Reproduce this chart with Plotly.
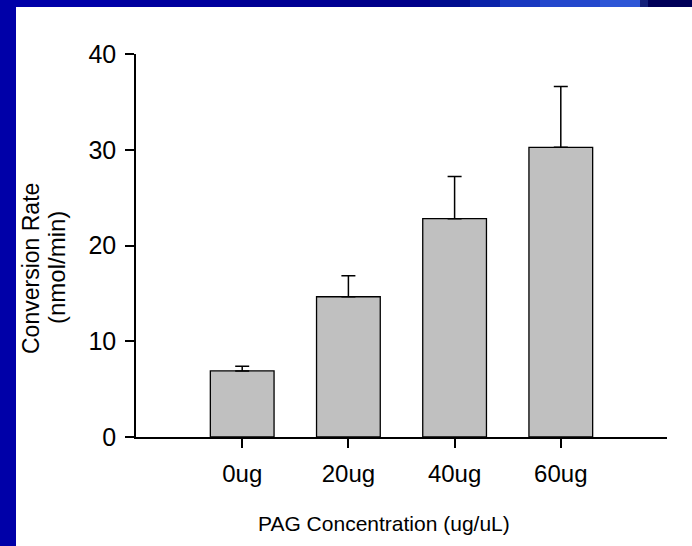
import plotly.graph_objects as go

categories = ["0ug", "20ug", "40ug", "60ug"]
rates = [6.9, 14.65, 22.8, 30.25]
errors = [0.5, 2.2, 4.4, 6.35]
y_ticks = [0, 10, 20, 30, 40]

W, H = 692, 546
L, R, T, B = 136, 25, 54, 109
pw, ph = W - L - R, H - T - B

def px(x):
    return (x - L) / pw

def py(y):
    return (H - B - y) / ph

FONT = "Liberation Sans, Arial, sans-serif"

fig = go.Figure()
fig.add_trace(go.Bar(
    x=categories, y=rates, width=0.6,
    marker=dict(color="#C0C0C0", line=dict(color="black", width=1.3)),
    error_y=dict(type="data", symmetric=False, array=errors,
                 arrayminus=[0] * len(errors), color="black",
                 thickness=1.5, width=7),
))

shapes = []
# left blue border
shapes.append(dict(type="rect", xref="paper", yref="paper",
                   x0=px(0), x1=px(16), y0=py(H), y1=py(0),
                   fillcolor="#0000A8", line=dict(width=0), layer="above"))
# top band segments (gradient approximation)
band = [(0, 120, "#0000A8"), (120, 240, "#00009E"), (240, 340, "#000094"),
        (340, 430, "#00008A"), (430, 470, "#000C8E"), (470, 500, "#0A22A8"),
        (500, 540, "#1838C0"), (540, 600, "#2448CC"), (600, 640, "#2E56D6"),
        (640, 648, "#14207A"), (648, 692, "#000058")]
for a, b, c in band:
    shapes.append(dict(type="rect", xref="paper", yref="paper",
                       x0=px(a), x1=px(b), y0=py(7), y1=py(0),
                       fillcolor=c, line=dict(width=0), layer="above"))

annotations = [
    dict(text="Conversion Rate", x=px(31), y=py(269), xref="paper", yref="paper",
         textangle=-90, showarrow=False, xanchor="center", yanchor="middle",
         font=dict(size=23, color="black", family=FONT)),
    dict(text="(nmol/min)", x=px(56), y=py(268), xref="paper", yref="paper",
         textangle=-90, showarrow=False, xanchor="center", yanchor="middle",
         font=dict(size=24, color="black", family=FONT)),
    dict(text="PAG Concentration (ug/uL)", x=px(384), y=py(523), xref="paper",
         yref="paper", showarrow=False, xanchor="center", yanchor="middle",
         font=dict(size=21, color="black", family=FONT)),
]

fig.update_layout(
    width=W, height=H, margin=dict(l=L, r=R, t=T, b=B, pad=0),
    paper_bgcolor="white", plot_bgcolor="white", showlegend=False,
    font=dict(family=FONT, color="black", size=23),
    shapes=shapes, annotations=annotations, bargap=0.4,
    xaxis=dict(range=[-1, 4], showline=True, linecolor="black", linewidth=1.5,
               ticks="outside", ticklen=9, tickwidth=1.5, tickcolor="black",
               showgrid=False, zeroline=False, tickfont=dict(size=24),
               ticklabelstandoff=5),
    yaxis=dict(range=[0, 40], tickvals=y_ticks, showline=True, linecolor="black",
               linewidth=1.5, ticks="outside", ticklen=9, tickwidth=1.5,
               tickcolor="black", showgrid=False, zeroline=False,
               tickfont=dict(size=25), ticklabelstandoff=4),
)

fig.write_html("out.html")
